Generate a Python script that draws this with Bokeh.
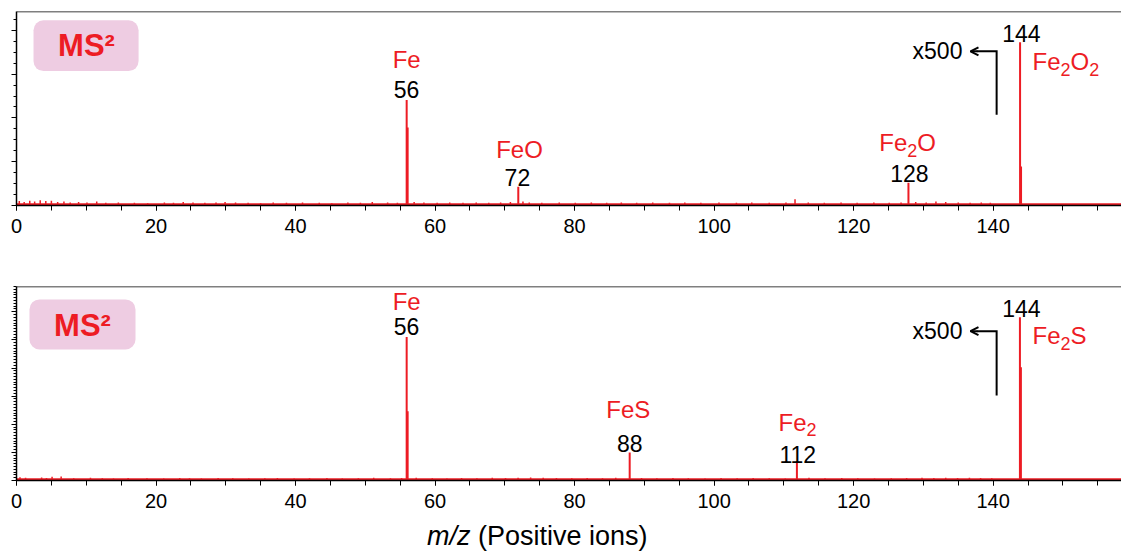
from bokeh.plotting import figure
from bokeh.layouts import column
from bokeh.models import (SingleIntervalTicker, Span, Label, Arrow, OpenHead,
                          BoxAnnotation, Range1d, Div)
from bokeh.embed import file_html
from bokeh.resources import INLINE

# ---------------- data ----------------
top_peak_mz = [55.93, 71.93, 127.86, 143.86]
top_peak_int = [2.41, 0.43, 0.52, 3.73]
top_shoulder_mz = [56.07, 144.0]
top_shoulder_int = [1.78, 0.89]
top_masses = ["56", "72", "128", "144"]

bot_peak_mz = [55.93, 87.90, 111.87, 143.84]
bot_peak_int = [5.10, 1.00, 0.62, 5.81]
bot_shoulder_mz = [56.07, 143.98]
bot_shoulder_int = [2.46, 4.03]
bot_masses = ["56", "88", "112", "144"]

# species names: (main text, subscript) pieces
top_names = [[("Fe", "")], [("FeO", "")], [("Fe", "2"), ("O", "")],
             [("Fe", "2"), ("O", "2")]]
bot_names = [[("Fe", "")], [("FeS", "")], [("Fe", "2")], [("Fe", "2"), ("S", "")]]

top_noise_mz = [0.4, 1.1, 1.9, 2.6, 3.4, 4.2, 5.0, 5.9, 6.8, 7.7,
                8.9, 10.1, 11.5, 12.8, 14.6, 16.9, 18.8, 21.2, 22.5, 23.9,
                25.3, 27.0, 28.6, 29.9, 31.4, 33.2, 35.0, 36.8, 38.7, 41.0,
                43.4, 45.2, 47.5, 49.3, 51.0, 53.2, 54.6, 57.0, 58.4, 60.3,
                62.1, 64.0, 65.9, 67.7, 69.4, 70.8, 72.6, 73.5, 75.3, 77.8,
                80.1, 82.4, 84.6, 86.7, 88.9, 91.2, 93.6, 95.8, 98.1, 100.7,
                103.2, 105.4, 107.9, 110.3, 111.6, 113.5, 115.8, 118.2, 120.5, 122.9,
                125.1, 126.8, 128.9, 130.4, 131.8, 133.2, 135.0, 136.7, 138.3, 139.6]
top_noise_int = [0.10, 0.08, 0.11, 0.09, 0.12, 0.10, 0.11, 0.08, 0.09, 0.07,
                 0.08, 0.07, 0.09, 0.06, 0.07, 0.06, 0.05, 0.07, 0.06, 0.08,
                 0.07, 0.06, 0.07, 0.08, 0.07, 0.06, 0.05, 0.07, 0.06, 0.07,
                 0.06, 0.05, 0.07, 0.06, 0.08, 0.07, 0.06, 0.08, 0.07, 0.06,
                 0.07, 0.06, 0.07, 0.06, 0.07, 0.08, 0.09, 0.07, 0.06, 0.07,
                 0.06, 0.07, 0.06, 0.07, 0.06, 0.07, 0.06, 0.07, 0.06, 0.07,
                 0.06, 0.07, 0.06, 0.07, 0.14, 0.07, 0.06, 0.07, 0.06, 0.07,
                 0.06, 0.07, 0.08, 0.07, 0.09, 0.08, 0.07, 0.06, 0.07, 0.06]

bot_noise_mz = [0.5, 1.3, 3.6, 4.3, 5.1, 6.4, 8.2, 10.6, 12.3, 13.9,
                16.0, 18.7, 21.1, 23.4, 24.8, 26.5, 28.9, 31.0, 33.3, 35.6,
                37.4, 39.8, 42.0, 44.5, 46.7, 49.0, 51.2, 53.6, 55.2, 57.3,
                59.6, 61.7, 63.8, 66.0, 68.2, 70.1, 71.9, 73.7, 75.5, 77.4,
                79.6, 81.8, 84.0, 85.9, 89.6, 91.8, 94.1, 96.3, 98.7, 101.0,
                103.3, 105.6, 107.9, 110.2, 113.6, 115.9, 118.3, 120.6, 123.0, 125.4,
                127.6, 129.8, 131.5, 133.2, 134.9, 136.6, 138.2, 139.8]
bot_noise_int = [0.12, 0.10, 0.11, 0.09, 0.13, 0.14, 0.08, 0.10, 0.08, 0.07,
                 0.09, 0.08, 0.07, 0.09, 0.08, 0.07, 0.09, 0.08, 0.07, 0.08,
                 0.09, 0.07, 0.08, 0.09, 0.07, 0.08, 0.10, 0.08, 0.09, 0.10,
                 0.08, 0.07, 0.09, 0.08, 0.10, 0.09, 0.10, 0.11, 0.10, 0.09,
                 0.08, 0.09, 0.08, 0.10, 0.09, 0.08, 0.09, 0.08, 0.07, 0.09,
                 0.08, 0.09, 0.08, 0.07, 0.10, 0.08, 0.09, 0.08, 0.07, 0.08,
                 0.09, 0.10, 0.09, 0.10, 0.09, 0.10, 0.09, 0.08]

x_tick_interval = 20
x_title_italic = "m/z"
x_title_rest = " (Positive ions)"
scale_text = "x500"

# ---------------- style / layout ----------------
RED = "#ED1C24"
PINK = "#EECCE2"
FONT = "Liberation Sans"
X_END = 158.4
W = 1121
PX_PER_UNIT = (W - 16) / X_END
NAME_PX = 24
SUB_PX = 18
NUM_PX = 23
MID = 0.35          # middle-baseline offset above alphabetic baseline (em)
SUB_DROP = 5.7      # px the subscript baseline sits below the main baseline

# Arial / Liberation Sans advance widths (per 1000 em)
ADV = {"F": 611, "e": 556, "O": 778, "S": 667, "2": 556}


def text_width(s, px):
    return sum(ADV.get(c, 556) for c in s) * px / 1000.0


def make_panel(height, top_border, bottom_border, y_end, y_minor,
               peak_mz, peak_int, sh_mz, sh_int, noise_mz, noise_int, base_y):
    p = figure(width=W, height=height, output_backend="svg",
               toolbar_location=None,
               x_range=Range1d(0, X_END), y_range=Range1d(0, y_end),
               min_border_left=16, min_border_right=0,
               min_border_top=top_border, min_border_bottom=bottom_border)
    p.outline_line_color = None
    p.grid.visible = False
    p.background_fill_color = "white"
    p.border_fill_color = "white"

    xa = p.xaxis[0]
    xa.ticker = SingleIntervalTicker(interval=x_tick_interval, num_minor_ticks=4)
    xa.axis_line_width = 1.5
    xa.major_tick_out = 5
    xa.minor_tick_out = 5
    xa.major_tick_in = 0
    xa.minor_tick_in = 0
    xa.major_label_text_font = FONT
    xa.major_label_text_font_size = "20px"
    xa.major_label_text_color = "black"
    xa.major_label_standoff = 8

    ya = p.yaxis[0]
    ya.ticker = SingleIntervalTicker(interval=1, num_minor_ticks=y_minor)
    ya.axis_line_width = 1.5
    ya.major_tick_out = 5
    ya.minor_tick_out = 3
    ya.major_tick_in = 0
    ya.minor_tick_in = 0
    ya.major_label_overrides = {i: "" for i in range(0, 10)}
    ya.major_label_standoff = 0

    p.add_layout(Span(location=y_end, dimension="width",
                      line_color="black", line_width=1.5))

    p.line([0, X_END], [base_y, base_y], line_color=RED, line_width=2)
    p.segment(x0=noise_mz, y0=[0] * len(noise_mz), x1=noise_mz, y1=noise_int,
              line_color=RED, line_width=1.5)
    p.segment(x0=sh_mz, y0=[0] * len(sh_mz), x1=sh_mz, y1=sh_int,
              line_color=RED, line_width=2)
    p.segment(x0=peak_mz, y0=[0] * len(peak_mz), x1=peak_mz, y1=peak_int,
              line_color=RED, line_width=2)
    return p


def lab(p, x, y, text, color="black", size=NUM_PX, align="center",
        style="normal"):
    p.add_layout(Label(x=x, y=y, text=text, text_color=color,
                       text_font=FONT, text_font_size=f"{size}px",
                       text_font_style=style,
                       text_align=align, text_baseline="middle"))


def formula(p, pieces, x, y_base, align, ppy):
    """Chemical formula with real subscripts; y_base = text baseline (data)."""
    total = sum(text_width(t, NAME_PX) + text_width(s, SUB_PX) for t, s in pieces)
    cur = 0.0 if align == "left" else -total / 2.0
    y_main = y_base + MID * NAME_PX / ppy
    y_sub = y_base + (MID * SUB_PX - SUB_DROP) / ppy
    for t, s in pieces:
        lab(p, x + cur / PX_PER_UNIT, y_main, t, color=RED, size=NAME_PX,
            align="left")
        cur += text_width(t, NAME_PX)
        if s:
            lab(p, x + cur / PX_PER_UNIT, y_sub, s, color=RED, size=SUB_PX,
                align="left")
            cur += text_width(s, SUB_PX)


def decorate(p, ppy, box, ms_pos, names, name_pos, masses, mass_pos, arrow):
    left, right, bottom, top = box
    p.add_layout(BoxAnnotation(left=left, right=right, bottom=bottom, top=top,
                               fill_color=PINK, fill_alpha=1.0,
                               line_color=None, border_radius=10,
                               level="underlay"))
    lab(p, ms_pos[0], ms_pos[1], "MS²", color=RED, size=31, style="bold")
    for pieces, (x, y, a) in zip(names, name_pos):
        formula(p, pieces, x, y, a, ppy)
    for t, (x, y) in zip(masses, mass_pos):
        lab(p, x, y, t)
    xv, y0, y1, xh, xlab = arrow
    p.line([xv, xv, xh + 0.9], [y0, y1, y1], line_color="black", line_width=2,
           line_join="miter")
    p.add_layout(Arrow(end=OpenHead(size=8, line_width=2, line_color="black"),
                       x_start=xh + 1.0, y_start=y1, x_end=xh, y_end=y1,
                       line_width=2, line_color="black"))
    lab(p, xlab, y1, scale_text, align="right")


TOP_PX_Y = 43.7   # px per y unit (top panel)
BOT_PX_Y = 28.1   # px per y unit (bottom panel)

p1 = make_panel(280, 11, 75, 4.43, 4, top_peak_mz, top_peak_int,
                top_shoulder_mz, top_shoulder_int, top_noise_mz, top_noise_int,
                0.03)
decorate(p1, TOP_PX_Y, (2.44, 17.5, 3.07, 4.23), (10.03, 3.66), top_names,
         [(55.93, 3.15, "center"), (72.1, 1.09, "center"),
          (127.75, 1.236, "center"), (145.64, 3.098, "left")],
         top_masses,
         [(55.9, 2.65), (71.8, 0.645), (128.0, 0.725), (144.06, 3.93)],
         (140.5, 2.07, 3.52, 136.75, 135.6))

p2 = make_panel(240, 6, 40, 6.9, 10, bot_peak_mz, bot_peak_int,
                bot_shoulder_mz, bot_shoulder_int, bot_noise_mz, bot_noise_int,
                0.045)
decorate(p2, BOT_PX_Y, (1.86, 17.06, 4.66, 6.44), (9.46, 5.52), bot_names,
         [(55.93, 6.05, "center"), (87.7, 2.24, "center"),
          (109.23, 1.779, "left"), (145.64, 4.865, "left")],
         bot_masses,
         [(55.9, 5.46), (87.9, 1.33), (112.0, 0.925), (144.06, 6.10)],
         (140.5, 3.02, 5.31, 136.75, 135.6))

title = Div(
    text=(f'<div style="font-family:\'Liberation Sans\'; font-size:27px; '
          f'line-height:27px; padding-top:3px; padding-left:427px; '
          f'white-space:nowrap; color:black;">'
          f'<i>{x_title_italic}</i>{x_title_rest}</div>'),
    width=W, height=31, margin=0)

layout = column(p1, p2, title, spacing=0)
open("out.html", "w").write(file_html(layout, INLINE))
